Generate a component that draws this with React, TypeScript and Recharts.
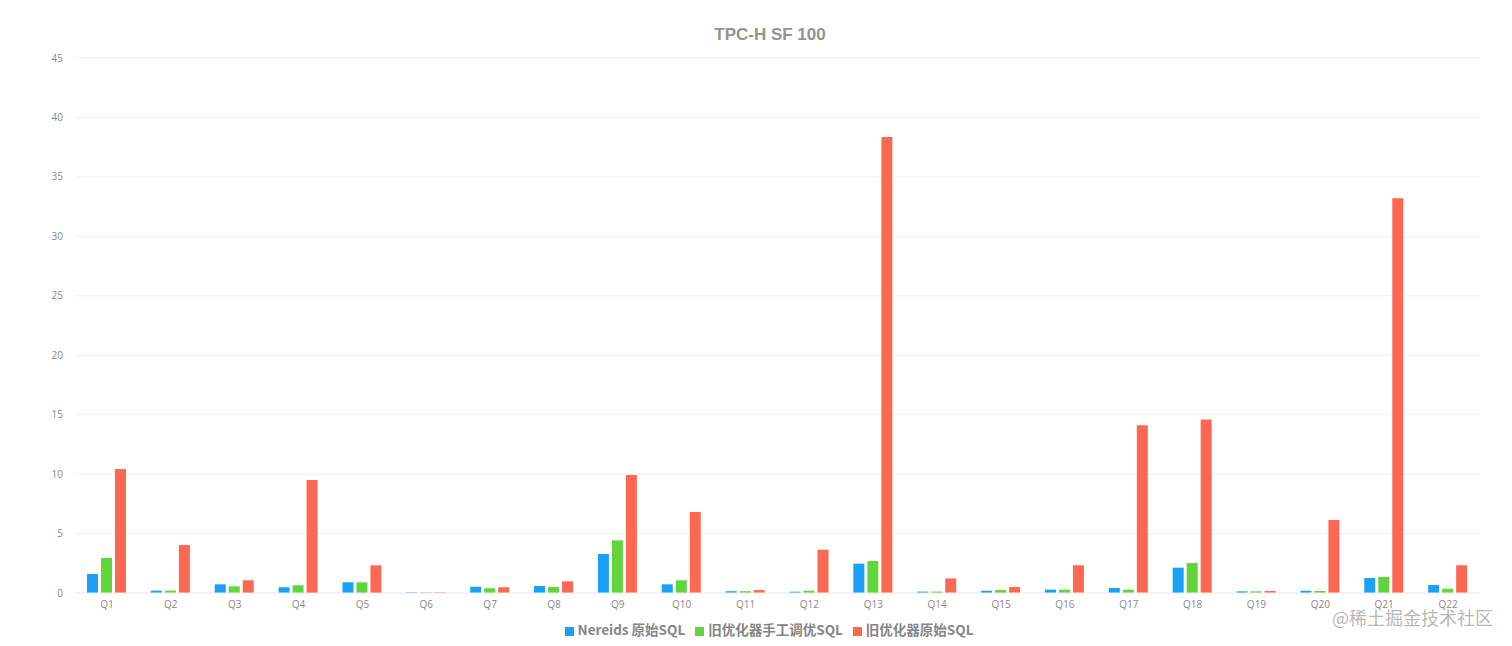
import { BarChart, Bar, XAxis, YAxis, CartesianGrid, Legend } from 'recharts';

const QUERIES = [
  'Q1', 'Q2', 'Q3', 'Q4', 'Q5', 'Q6', 'Q7', 'Q8', 'Q9', 'Q10', 'Q11',
  'Q12', 'Q13', 'Q14', 'Q15', 'Q16', 'Q17', 'Q18', 'Q19', 'Q20', 'Q21', 'Q22',
];

const NEREIDS = [
  1.6, 0.2, 0.73, 0.48, 0.9, 0.05, 0.53, 0.59, 3.28, 0.73, 0.15,
  0.11, 2.47, 0.12, 0.19, 0.28, 0.42, 2.13, 0.14, 0.19, 1.26, 0.67,
];

const OLD_TUNED = [
  2.95, 0.2, 0.56, 0.65, 0.9, 0.05, 0.4, 0.5, 4.43, 1.07, 0.15,
  0.19, 2.69, 0.12, 0.25, 0.28, 0.28, 2.52, 0.14, 0.17, 1.35, 0.36,
];

const OLD_RAW = [
  10.43, 4.04, 1.07, 9.5, 2.33, 0.05, 0.48, 0.98, 9.92, 6.81, 0.25,
  3.64, 38.35, 1.23, 0.5, 2.33, 14.1, 14.6, 0.17, 6.14, 33.2, 2.33,
];

const Y_TICKS = [0, 5, 10, 15, 20, 25, 30, 35, 40, 45];

const SERIES = [
  { key: 'nereids', name: 'Nereids 原始SQL', color: '#1aa1f6' },
  { key: 'tuned', name: '旧优化器手工调优SQL', color: '#62d43c' },
  { key: 'raw', name: '旧优化器原始SQL', color: '#fd6853' },
];

const data = QUERIES.map((q, i) => ({
  q,
  nereids: NEREIDS[i],
  tuned: OLD_TUNED[i],
  raw: OLD_RAW[i],
}));

export default function App() {
  return (
    <div style={{ position: 'absolute', left: 0, top: 0, width: 1512, height: 646, background: '#fff' }}>
      <div
        style={{
          position: 'absolute',
          top: 25,
          left: 0,
          width: 1540,
          textAlign: 'center',
          fontFamily: '"Liberation Sans", Arial, sans-serif',
          fontWeight: 'bold',
          fontSize: 17,
          color: '#939393',
        }}
      >
        TPC-H SF 100
      </div>
      <BarChart
        width={1512}
        height={646}
        data={data}
        margin={{ top: 58, right: 32, left: 0, bottom: 0 }}
        barSize={11}
        barGap={3}
        style={{ fontFamily: '"Open Sans", sans-serif' }}
      >
        <CartesianGrid vertical={false} stroke="#f0f0f0" />
        <XAxis
          dataKey="q"
          tickLine={false}
          axisLine={{ stroke: '#eeeeee' }}
          tick={{ fontSize: 10, fill: '#888' }}
          height={23}
          interval={0}
        />
        <YAxis
          width={75}
          domain={[0, 45]}
          ticks={Y_TICKS}
          tickLine={false}
          axisLine={false}
          tickMargin={6}
          tick={{ fontSize: 10, fill: '#888' }}
        />
        <Legend
          verticalAlign="bottom"
          height={30}
          iconType="square"
          iconSize={9}
          itemSorter={(item: any) => SERIES.findIndex((s) => s.name === item.value)}
          wrapperStyle={{
            fontFamily: '"Noto Sans CJK SC", sans-serif',
            fontWeight: 'bold',
            fontSize: 13.5,
            paddingLeft: 34,
            bottom: -3,
          }}
          formatter={(value: string) => <span style={{ color: '#858585' }}>{value}</span>}
        />
        {SERIES.map((s) => (
          <Bar key={s.key} dataKey={s.key} name={s.name} fill={s.color} isAnimationActive={false} />
        ))}
      </BarChart>
      <div
        style={{
          position: 'absolute',
          left: 1332,
          top: 604,
          fontFamily: '"Noto Sans CJK SC", sans-serif',
          fontSize: 18,
          color: 'rgba(120,120,120,0.55)',
          whiteSpace: 'nowrap',
        }}
      >
        @稀土掘金技术社区
      </div>
    </div>
  );
}
